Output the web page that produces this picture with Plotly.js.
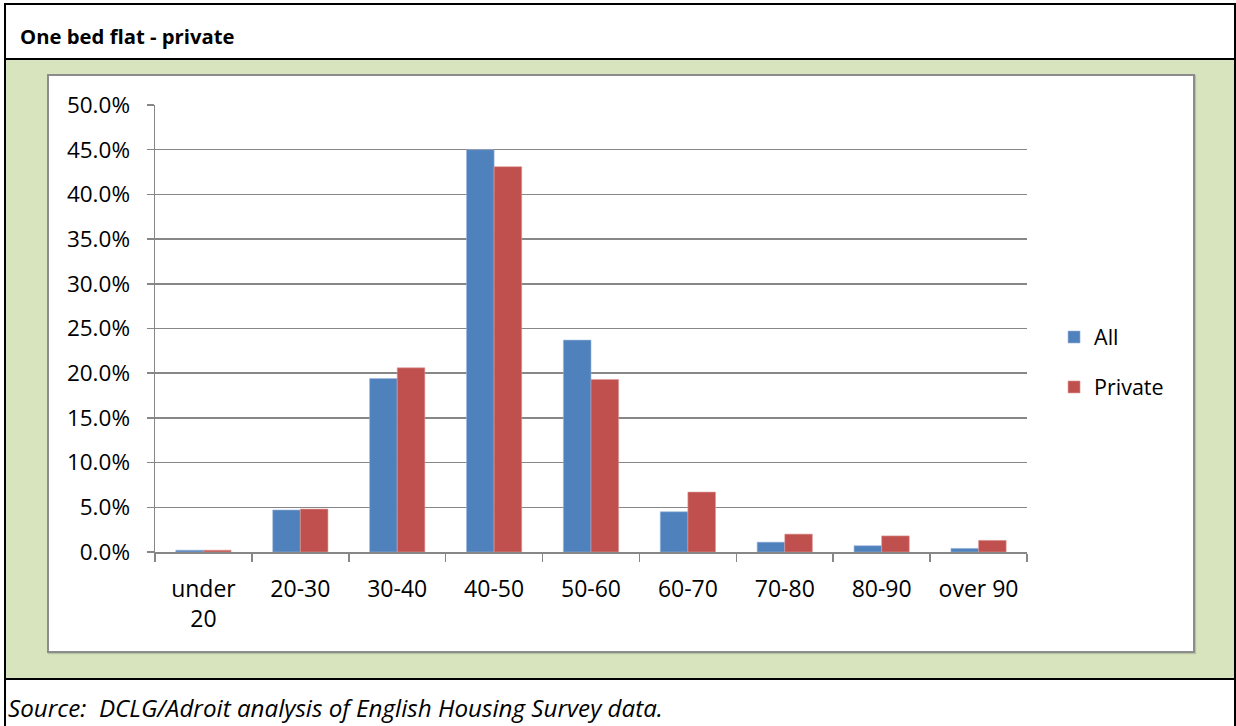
<!DOCTYPE html>
<html>
<head>
<meta charset="utf-8">
<script src="https://cdn.plot.ly/plotly-3.0.1.min.js"></script>
<style>
  html, body { margin: 0; padding: 0; background: #ffffff; }
  body { width: 1236px; height: 726px; position: relative; overflow: hidden; font-family: "Open Sans", sans-serif; }
  .frame { position: absolute; left: 4px; top: 3px; width: 1232px; height: 730px; border: 2px solid #000; border-bottom: none; box-sizing: border-box; }
  .header { position: absolute; left: 6px; top: 5px; width: 1228px; height: 53px; border-bottom: 2px solid #000; }
  .header span { position: absolute; left: 14px; top: 17px; font-weight: bold; font-size: 20.3px; color: #000; }
  .band { position: absolute; left: 6px; top: 60px; width: 1228px; height: 618px; background: #d7e4bd; border-bottom: 2px solid #000; }
  .card { position: absolute; left: 47px; top: 74px; width: 1148px; height: 579px; background: #fff; border: 2px solid #8c8c8c; box-sizing: border-box; box-shadow: 1px 1px 1px rgba(0,0,0,0.15); }
  .source { position: absolute; left: 8px; top: 691px; font-style: italic; font-size: 24.2px; color: #000; }
  #chart { position: absolute; left: 0; top: 0; width: 1236px; height: 726px; }
</style>
</head>
<body>
<div class="frame"></div>
<div class="header"><span>One bed flat - private</span></div>
<div class="band"></div>
<div class="card"></div>
<div class="source">Source:&nbsp; DCLG/Adroit analysis of English Housing Survey data.</div>
<div id="chart"></div>
<script>
// Floor-area bands (sq m) for one bed flats
const bands = ["under<br>20", "20-30", "30-40", "40-50", "50-60", "60-70", "70-80", "80-90", "over 90"];
// Share of stock in each band
const allShare     = [0.002, 0.047, 0.194, 0.450, 0.237, 0.045, 0.011, 0.007, 0.004];
const privateShare = [0.002, 0.048, 0.206, 0.431, 0.193, 0.067, 0.020, 0.018, 0.013];

const seriesNames = ["All", "Private"];
const seriesColors = ["#4f81bd", "#c0504d"];
const edgeColors = ["#9cb6d8", "#dc9a98"];

const traces = [allShare, privateShare].map((vals, i) => ({
  type: "bar",
  name: seriesNames[i],
  x: bands,
  y: vals,
  legendgroup: "g" + i,
  marker: { color: seriesColors[i], line: { color: edgeColors[i], width: 0.6 } },
  hovertemplate: "%{y:.1%}<extra>" + seriesNames[i] + "</extra>"
}));

const axisGrey = "#878787";
const tickFont = { family: "Open Sans, sans-serif", size: 23, color: "#000" };

const layout = {
  width: 1236,
  height: 726,
  margin: { l: 155, r: 209, t: 105, b: 174, pad: 0 },
  paper_bgcolor: "rgba(0,0,0,0)",
  plot_bgcolor: "rgba(0,0,0,0)",
  barmode: "group",
  bargap: 0.43,
  bargroupgap: 0,
  showlegend: true,
  legend: {
    x: 1.031, xanchor: "left",
    y: 0.425, yanchor: "middle",
    font: { family: "Open Sans, sans-serif", size: 21.5, color: "#000" },
    traceorder: "grouped",
    tracegroupgap: 19,
    itemwidth: 30,
    bgcolor: "rgba(0,0,0,0)"
  },
  xaxis: {
    type: "category",
    tickfont: tickFont,
    showline: true,
    linecolor: axisGrey,
    linewidth: 1.5,
    ticks: "outside",
    tickson: "boundaries",
    ticklen: 8,
    tickwidth: 1.5,
    tickcolor: axisGrey,
    ticklabelstandoff: 16,
    showgrid: false,
    zeroline: false,
    fixedrange: true
  },
  yaxis: {
    range: [0, 0.5],
    dtick: 0.05,
    tickformat: ".1%",
    tickfont: { family: "Open Sans, sans-serif", size: 22.5, color: "#000" },
    showline: true,
    linecolor: axisGrey,
    linewidth: 1.5,
    ticks: "outside",
    ticklen: 7,
    tickwidth: 1.5,
    tickcolor: axisGrey,
    ticklabelstandoff: 12,
    showgrid: true,
    gridcolor: axisGrey,
    gridwidth: 1.5,
    zeroline: false,
    fixedrange: true
  }
};

Plotly.newPlot("chart", traces, layout, { displayModeBar: false, staticPlot: true });
</script>
</body>
</html>
